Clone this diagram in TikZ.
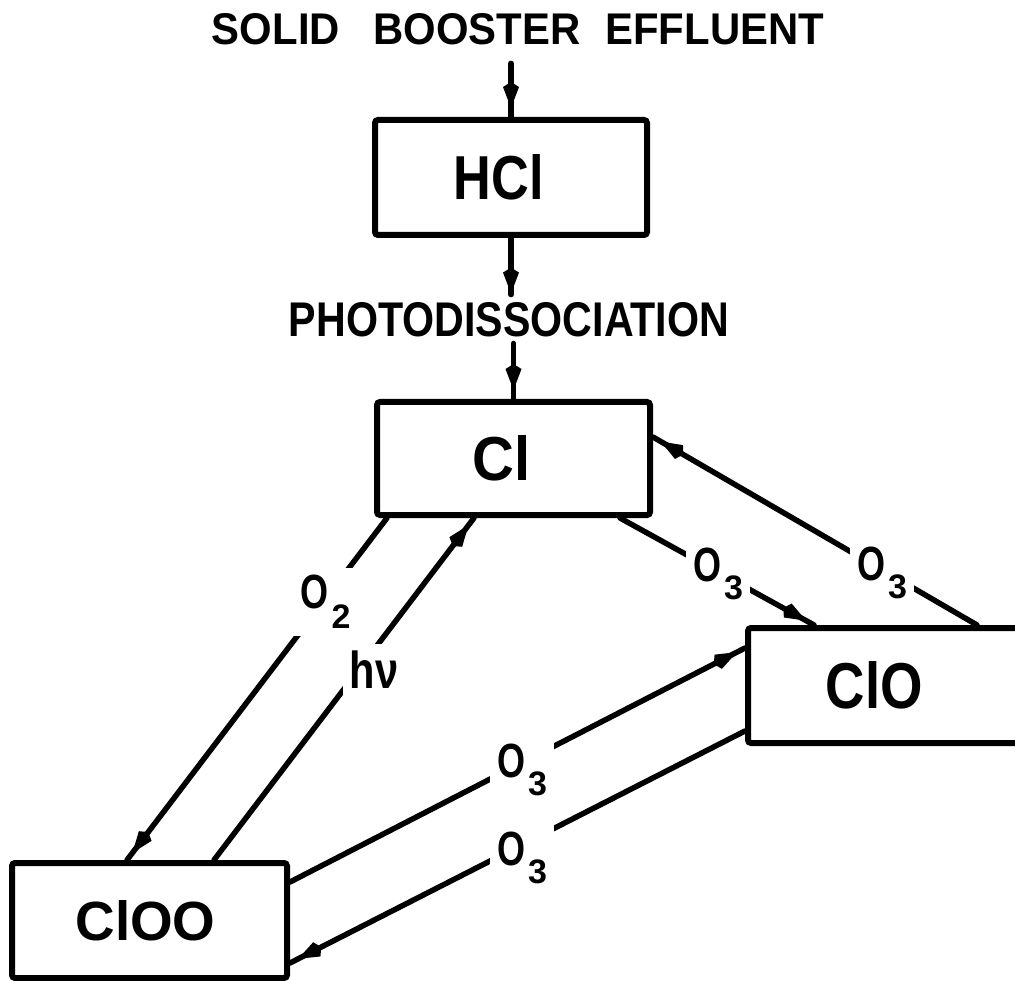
\documentclass[tikz,border=0pt]{standalone}
\usepackage{fontspec}
\setmainfont{Liberation Sans}
\usetikzlibrary{decorations.markings,calc}
\newcommand{\Olab}[2]{\scalebox{0.75}[1]{\fontsize{48}{48}\selectfont O}\hspace{3pt}\raisebox{#2}{\fontsize{34}{34}\selectfont #1}}
\tikzset{
  box/.style={draw, line width=6pt, inner sep=0pt, rounded corners=3pt, font=\bfseries},
  txt/.style={inner sep=0pt, font=\bfseries},
  lbl/.style={fill=white, inner sep=7pt, font=\bfseries},
  conn/.style={line width=5.5pt, line cap=round, postaction={decorate},
    decoration={markings, mark=at position -9pt with {\fill (0pt,0pt) -- (-21pt,8pt) -- (-26pt,0pt) -- (-21pt,-8pt) -- cycle;}}}
}
\begin{document}
\begin{tikzpicture}[x=1pt,y=-1pt]
\useasboundingbox (0,0) rectangle (1015,981);
% nodes
\node[txt] (src) at (518,29.5) {\resizebox{612pt}{31pt}{SOLID\hspace{0.8em}BOOSTER\hspace{0.6em}EFFLUENT}};
\node[box, minimum width=272pt, minimum height=115pt] (hcl) at (511,177.5) {\resizebox{90pt}{45pt}{HCl}\hspace*{24pt}};
\node[txt] (photo) at (509,320) {\resizebox{440pt}{34pt}{PHOTODISSOCIATION}};
\node[box, minimum width=273pt, minimum height=113pt] (cl) at (513.5,458.5) {\resizebox{58pt}{45pt}{Cl}\hspace*{24pt}};
\node[box, minimum width=277pt, minimum height=115pt] (clo) at (886.5,685.5) {\resizebox{97pt}{47pt}{ClO}\hspace*{24pt}};
\node[box, minimum width=275pt, minimum height=115pt] (cloo) at (149.5,920.5) {\resizebox{140pt}{40pt}{ClOO}\hspace*{8pt}};
% vertical arrows
\draw[conn, shorten <=18pt] (src.south -| hcl.north) -- (hcl.north);
\draw[conn, shorten >=8pt] (hcl.south) -- (photo.north -| hcl.south);
\draw[conn, shorten <=6pt] (photo.south -| cl.north) -- (cl.north);
% diagonal connectors
\draw[conn] ([xshift=13pt]cl.south west) -- ([xshift=118pt]cloo.north west);
\draw[conn] ([xshift=205pt]cloo.north west) -- ([xshift=100pt]cl.south west);
\draw[conn] ([xshift=-33pt]cl.south east) -- ([xshift=69pt]clo.north west);
\draw[conn] ([xshift=232pt]clo.north west) -- ([yshift=-38pt]cl.north east);
\draw[conn] ([yshift=-22pt]cloo.north east) -- ([yshift=-23pt]clo.north west);
\draw[conn] ([yshift=15pt]clo.south west) -- ([yshift=18pt]cloo.south east);
% labels
\node[lbl] (lo2) at (325.5,602) {\Olab{2}{-20pt}};
\node[lbl] (lhv) at (374,669.5) {\scalebox{0.8}[1]{\fontsize{52}{52}\selectfont hν}};
\node[lbl] (loa) at (718,574) {\Olab{3}{-18pt}};
\node[lbl] (lob) at (882,572.5) {\Olab{3}{-18pt}};
\node[lbl] (loc) at (522,770) {\Olab{3}{-18pt}};
\node[lbl] (lod) at (522,858) {\Olab{3}{-18pt}};
\end{tikzpicture}
\end{document}
